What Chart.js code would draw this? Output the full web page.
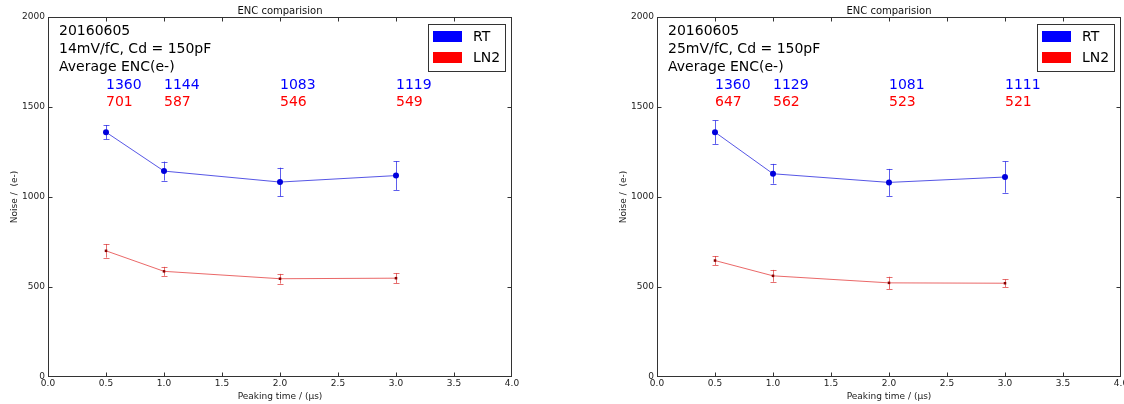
<!DOCTYPE html>
<html>
<head>
<meta charset="utf-8">
<script src="https://cdn.jsdelivr.net/npm/chart.js@4.4.0/dist/chart.umd.min.js"></script>
<style>
  html, body { margin: 0; padding: 0; background: #fff; }
  body { width: 1124px; height: 404px; position: relative; overflow: hidden; }
  canvas { position: absolute; top: 0; }
</style>
</head>
<body>
<canvas id="c1" width="609" height="404" style="left:0px"></canvas>
<canvas id="c2" width="560" height="404" style="left:609px"></canvas>
<script>
// ---- data ----
const peakingTimes = [0.5, 1.0, 2.0, 3.0];
const xTicks = [0.0, 0.5, 1.0, 1.5, 2.0, 2.5, 3.0, 3.5, 4.0];
const yTicks = [0, 500, 1000, 1500, 2000];

const rt14 = [1360, 1144, 1083, 1119];
const rt14Err = [40, 53, 80, 80];
const ln14 = [701, 587, 546, 549];
const ln14Err = [38, 25, 27, 28];

const rt25 = [1360, 1129, 1081, 1111];
const rt25Err = [65, 55, 75, 87];
const ln25 = [647, 562, 523, 521];
const ln25Err = [25, 33, 34, 21];

const chartTitle = 'ENC comparision';
const xLabel = 'Peaking time / (\u03bcs)';
const yLabel = 'Noise /  (e-)';
const header14 = ['20160605', '14mV/fC, Cd = 150pF', 'Average ENC(e-)'];
const header25 = ['20160605', '25mV/fC, Cd = 150pF', 'Average ENC(e-)'];
const seriesNames = ['RT', 'LN2'];
const rtTextY = 1622;
const lnTextY = 1528;

Chart.defaults.font.family = "'DejaVu Sans', sans-serif";
Chart.defaults.color = '#222';

const errorBarPlugin = {
  id: 'errorBars',
  beforeDatasetsDraw(chart) {
    const ctx = chart.ctx, xs = chart.scales.x, ys = chart.scales.y;
    chart.data.datasets.forEach(ds => {
      if (!ds.errors) return;
      ctx.save();
      ctx.strokeStyle = ds.errColor;
      ctx.lineWidth = 1;
      ds.data.forEach((p, i) => {
        const e = ds.errors[i];
        const x = Math.round(xs.getPixelForValue(p.x)) + 0.5;
        const y1 = ys.getPixelForValue(p.y + e);
        const y2 = ys.getPixelForValue(p.y - e);
        ctx.beginPath();
        ctx.moveTo(x, y1); ctx.lineTo(x, y2);
        ctx.moveTo(x - 3, Math.round(y1) + 0.5); ctx.lineTo(x + 3, Math.round(y1) + 0.5);
        ctx.moveTo(x - 3, Math.round(y2) + 0.5); ctx.lineTo(x + 3, Math.round(y2) + 0.5);
        ctx.stroke();
      });
      ctx.restore();
    });
  }
};

const framePlugin = {
  id: 'frame',
  afterDraw(chart) {
    const ctx = chart.ctx, a = chart.chartArea, xs = chart.scales.x, ys = chart.scales.y;
    const o = chart.options.plugins.frame;
    ctx.save();
    ctx.strokeStyle = '#333';
    ctx.lineWidth = 1;
    const L = Math.round(a.left) + 0.5, R = Math.round(a.right) - 0.5;
    const T = Math.round(a.top) + 0.5, B = Math.round(a.bottom) - 0.5;
    ctx.strokeRect(L, T, R - L, B - T);
    ctx.beginPath();
    xTicks.forEach(v => {
      const x = Math.min(R, Math.max(L, Math.round(xs.getPixelForValue(v)) + 0.5));
      ctx.moveTo(x, B); ctx.lineTo(x, B - 4);
      ctx.moveTo(x, T); ctx.lineTo(x, T + 4);
    });
    yTicks.forEach(v => {
      const y = Math.min(B, Math.max(T, Math.round(ys.getPixelForValue(v)) + 0.5));
      ctx.moveTo(L, y); ctx.lineTo(L + 4, y);
      ctx.moveTo(R, y); ctx.lineTo(R - 4, y);
    });
    ctx.stroke();

    // title
    ctx.fillStyle = '#111';
    ctx.font = "10px 'DejaVu Sans'";
    ctx.textAlign = 'center';
    ctx.textBaseline = 'middle';
    ctx.fillText(chartTitle, (a.left + a.right) / 2, a.top - 6);

    // header text
    ctx.font = "14px 'DejaVu Sans'";
    ctx.textAlign = 'left';
    ctx.fillStyle = '#000';
    o.header.forEach((t, i) => ctx.fillText(t, a.left + 11, a.top + 14 + i * 18));

    // value annotations
    const ds = chart.data.datasets;
    ctx.fillStyle = '#0000ff';
    ds[0].data.forEach(p => ctx.fillText(String(p.y), xs.getPixelForValue(p.x), ys.getPixelForValue(rtTextY)));
    ctx.fillStyle = '#ff0000';
    ds[1].data.forEach(p => ctx.fillText(String(p.y), xs.getPixelForValue(p.x), ys.getPixelForValue(lnTextY)));

    // legend
    const bw = 77, bh = 47;
    const bx = Math.round(a.right) - 7 - bw, by = Math.round(a.top) + 7;
    ctx.fillStyle = '#fff';
    ctx.fillRect(bx, by, bw, bh);
    ctx.strokeStyle = '#333';
    ctx.strokeRect(bx + 0.5, by + 0.5, bw, bh);
    const sw = [['#0000ff', seriesNames[0]], ['#ff0000', seriesNames[1]]];
    sw.forEach((s, i) => {
      const cy = by + 12 + i * 21;
      ctx.fillStyle = s[0];
      ctx.fillRect(bx + 5, cy - 5, 29, 11);
      ctx.fillStyle = '#000';
      ctx.fillText(s[1], bx + 45, cy + 1);
    });
    ctx.restore();
  }
};

function makeChart(id, canvasWidth, rt, rtErr, ln, lnErr, header) {
  return new Chart(document.getElementById(id), {
    type: 'scatter',
    data: {
      datasets: [
        {
          label: seriesNames[0],
          data: peakingTimes.map((x, i) => ({ x, y: rt[i] })),
          errors: rtErr,
          errColor: 'rgba(40,40,230,0.75)',
          showLine: true,
          borderColor: 'rgba(30,30,220,0.75)',
          borderWidth: 1,
          pointRadius: 3,
          pointBackgroundColor: '#0000dd',
          pointBorderColor: '#0000dd',
          pointBorderWidth: 0
        },
        {
          label: seriesNames[1],
          data: peakingTimes.map((x, i) => ({ x, y: ln[i] })),
          errors: lnErr,
          errColor: 'rgba(220,50,50,0.7)',
          showLine: true,
          borderColor: 'rgba(225,40,40,0.7)',
          borderWidth: 1,
          pointRadius: 1.8,
          pointStyle: 'rect',
          pointBackgroundColor: '#880000',
          pointBorderColor: '#880000',
          pointBorderWidth: 0
        }
      ]
    },
    options: {
      responsive: false,
      animation: false,
      devicePixelRatio: 1,
      layout: { padding: { top: 17, right: canvasWidth - 512, left: 0, bottom: 0 } },
      plugins: {
        legend: { display: false },
        title: { display: false },
        tooltip: { enabled: false },
        frame: { header }
      },
      scales: {
        x: {
          type: 'linear', min: 0, max: 4,
          afterBuildTicks: s => { s.ticks = xTicks.map(v => ({ value: v })); },
          afterFit: s => { s.height = 27; },
          grid: { display: false, drawTicks: false },
          border: { display: false },
          ticks: { padding: 1, font: { size: 9 }, color: '#222', callback: v => Number(v).toFixed(1), maxRotation: 0, autoSkip: false },
          title: { display: true, text: xLabel, font: { size: 9 }, color: '#222', padding: { top: 0, bottom: 2 } }
        },
        y: {
          type: 'linear', min: 0, max: 2000,
          afterBuildTicks: s => { s.ticks = yTicks.map(v => ({ value: v })); },
          afterFit: s => { s.width = 48; },
          grid: { display: false, drawTicks: false },
          border: { display: false },
          ticks: { padding: 3, font: { size: 9 }, color: '#222', callback: v => String(v), autoSkip: false },
          title: { display: true, text: yLabel, font: { size: 9 }, color: '#222', padding: { top: 9, bottom: 0 } }
        }
      }
    },
    plugins: [errorBarPlugin, framePlugin]
  });
}

makeChart('c1', 609, rt14, rt14Err, ln14, ln14Err, header14);
makeChart('c2', 560, rt25, rt25Err, ln25, ln25Err, header25);
</script>
</body>
</html>
